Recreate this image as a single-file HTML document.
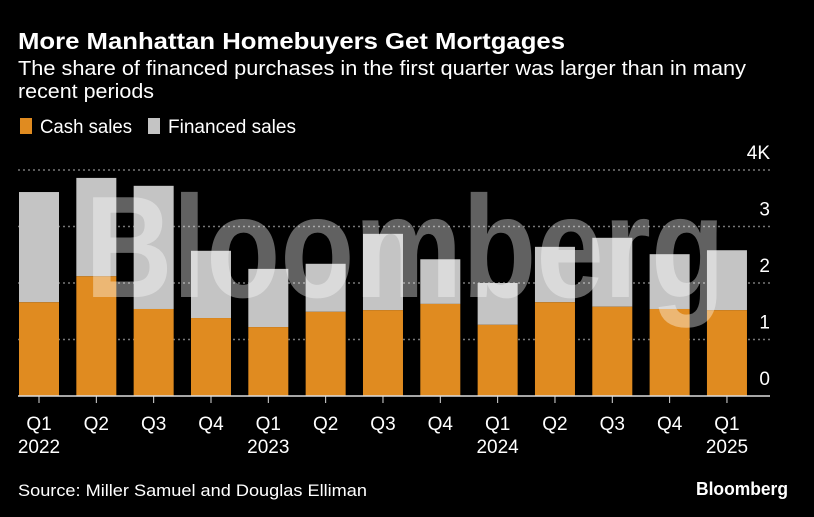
<!DOCTYPE html>
<html><head><meta charset="utf-8"><style>
html,body{margin:0;padding:0;background:#000;}
svg{display:block;font-family:"Liberation Sans Narrow","Liberation Sans",sans-serif;}
</style></head><body>
<svg id="chart" width="814" height="517" viewBox="0 0 814 517">
<rect width="814" height="517" fill="#000"/>
<text x="18" y="49" fill="#fff" font-size="23" font-weight="bold" textLength="547" lengthAdjust="spacingAndGlyphs">More Manhattan Homebuyers Get Mortgages</text>
<text x="18" y="75" fill="#fff" font-size="20" textLength="728" lengthAdjust="spacingAndGlyphs">The share of financed purchases in the first quarter was larger than in many</text>
<text x="18" y="98" fill="#fff" font-size="20" textLength="136" lengthAdjust="spacingAndGlyphs">recent periods</text>
<g>
<rect x="20" y="118" width="12" height="16" fill="#e08b20"/>
<text x="40" y="133" fill="#fff" font-size="19" textLength="92" lengthAdjust="spacingAndGlyphs">Cash sales</text>
<rect x="148" y="118" width="12" height="16" fill="#c4c4c4"/>
<text x="168" y="133" fill="#fff" font-size="19" textLength="128" lengthAdjust="spacingAndGlyphs">Financed sales</text>
</g>
<g id="grid"></g>
<g id="bars"></g>
<text x="85" y="297" fill="rgba(255,255,255,0.38)" font-size="145" font-weight="bold" font-family="Liberation Sans, sans-serif" textLength="640" lengthAdjust="spacingAndGlyphs">Bloomberg</text>
<g id="xaxis"></g>
<text x="18" y="496" fill="#fff" font-size="17" textLength="349" lengthAdjust="spacingAndGlyphs">Source: Miller Samuel and Douglas Elliman</text>
<text x="788" y="495" fill="#fff" font-size="18" font-weight="bold" font-family="Liberation Sans, sans-serif" text-anchor="end" textLength="92" lengthAdjust="spacingAndGlyphs">Bloomberg</text>
</svg>
<script>
const quarters = ["Q1","Q2","Q3","Q4","Q1","Q2","Q3","Q4","Q1","Q2","Q3","Q4","Q1"];
const years = ["2022","","","","2023","","","","2024","","","","2025"];
const cashSales = [1.66,2.12,1.54,1.38,1.22,1.49,1.52,1.63,1.26,1.66,1.58,1.54,1.52];
const financedSales = [1.95,1.74,2.18,1.19,1.03,0.85,1.35,0.79,0.74,0.98,1.22,0.97,1.06];
const yTicks = [0,1,2,3,4];
const yTickLabels = ["0","1","2","3","4K"];

const NS="http://www.w3.org/2000/svg";
const y0=396, pxPerK=56.5;
const yScale=v=>y0-v*pxPerK;
const xStart=39, step=57.33, bw=40;
const xScale=i=>xStart+i*step;
function mk(tag,attrs,parent){const e=document.createElementNS(NS,tag);for(const k in attrs)e.setAttribute(k,attrs[k]);parent.appendChild(e);return e;}
const grid=document.getElementById('grid'), bars=document.getElementById('bars'), xa=document.getElementById('xaxis');
yTicks.forEach((t,i)=>{
  if(t>0){const l=mk('line',{x1:18,x2:770,y1:yScale(t),y2:yScale(t),stroke:'#777','stroke-width':1.5,'stroke-dasharray':'2,3'},grid);
  
  }
  const tx=mk('text',{x:770,y:yScale(t)-11,fill:'#fff','font-size':19,'text-anchor':'end'},grid);
  tx.textContent=yTickLabels[i];
  
  
});
quarters.forEach((q,i)=>{
  const cx=xScale(i);
  const tot=cashSales[i]+financedSales[i];
  const f=mk('rect',{x:cx-bw/2,y:yScale(tot),width:bw,height:yScale(cashSales[i])-yScale(tot),fill:'#c4c4c4'},bars);
  
  
  const c=mk('rect',{x:cx-bw/2,y:yScale(cashSales[i]),width:bw,height:yScale(0)-yScale(cashSales[i]),fill:'#e08b20'},bars);
  
  
  const tk=mk('line',{x1:cx,x2:cx,y1:y0,y2:y0+7,stroke:'#ddd','stroke-width':1},xa);
  
  
  const ql=mk('text',{x:cx,y:430,fill:'#fff','font-size':19,'text-anchor':'middle'},xa);
  ql.textContent=q;
  
  
  if(years[i]){const yl=mk('text',{x:cx,y:453,fill:'#fff','font-size':19,'text-anchor':'middle'},xa);
  yl.textContent=years[i];
  
  }
});
const ax=mk('line',{x1:18,x2:770,y1:y0,y2:y0,stroke:'#ddd','stroke-width':1.5},xa);


</script>
</body></html>
